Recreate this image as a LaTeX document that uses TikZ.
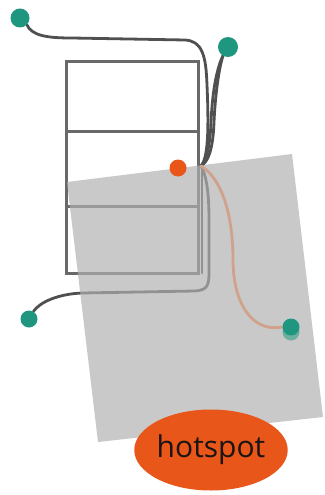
\documentclass[tikz,border=0pt]{standalone}
\usepackage{fontspec}
\setmainfont{Open Sans}
\usetikzlibrary{shapes.geometric}
\definecolor{teal1}{RGB}{31,150,128}
\definecolor{teal2}{RGB}{110,175,160}
\definecolor{hot}{RGB}{232,86,26}
\definecolor{cable}{RGB}{80,80,80}
\definecolor{frame}{RGB}{105,105,105}
\definecolor{salmon}{RGB}{208,162,140}
\pgfdeclarelayer{bg}
\pgfdeclarelayer{mid}
\pgfsetlayers{bg,mid,main}
\tikzset{
  endpoint/.style={circle,fill=teal1,inner sep=0pt,minimum size=17pt},
  hubdot/.style={circle,fill=hot,inner sep=0pt,minimum size=17pt},
  darkcable/.style={draw=cable,line width=2.8pt,line cap=round},
  lightcable/.style={draw=salmon,line width=2.8pt,line cap=round},
  framebox/.style={draw=frame,line width=3pt},
  sheet/.style={fill={rgb,1:red,0.69;green,0.69;blue,0.69},fill opacity=0.68},
  hotspotnode/.style={ellipse,fill=hot,minimum width=144pt,minimum height=81pt,inner sep=0pt,font=\fontsize{30}{32}\selectfont,text={rgb,255:red,26;green,20;blue,18}}
}
\begin{document}
\begin{tikzpicture}[x=1pt,y=-1pt]
\useasboundingbox (0,0) rectangle (324,495);
% endpoints and hub
\node[endpoint,minimum width=19pt,minimum height=18pt] (tA) at (20,18) {};
\node[endpoint,minimum width=19pt,minimum height=20pt] (tB) at (228,47) {};
\node[endpoint] (tC) at (29,319) {};
\node[circle,fill=teal2,inner sep=0pt,minimum size=17pt] (tDs) at (291,332) {};
\node[endpoint] (tD) at (291,327) {};
\node[hubdot] (hub) at (178,168) {};
\coordinate (J) at (201,166);
\node[hotspotnode] (hs) at (211,450) {hotspot};
\begin{pgfonlayer}{bg}
  % cabinet
  \draw[framebox] (66,62) rectangle (198,273);
  \draw[framebox] (66,131) -- (198,131);
  \draw[framebox] (66,206) -- (198,206);
  % dark cables
  \draw[darkcable] (tA.-45) .. controls (32,36) and (48,38) .. (72,38) -- (185,40)
     .. controls (202,41) and (206,55) .. (207,85)
     .. controls (209,130) and (208,158) .. (J);
  \draw[darkcable] (tB.-120) .. controls (215,72) and (212,100) .. (211,122)
     .. controls (210,150) and (205,162) .. (J);
  \draw[darkcable] (tB.-120) .. controls (218,72) and (215,100) .. (214,122)
     .. controls (213,150) and (208,162) .. (J);
  \draw[darkcable] (J) .. controls (206,175) and (209,190) .. (209,220) -- (209,274)
     .. controls (209,288) and (205,290) .. (195,291) -- (82,293)
     .. controls (58,294) and (40,302) .. (tC.60);
  \draw[darkcable] (202,166) -- (202,273);
  % sheet
  \fill[sheet] (67,182) -- (292,154) -- (323,417) -- (98,442) -- cycle;
\end{pgfonlayer}
\begin{pgfonlayer}{mid}
  \draw[lightcable] (J) .. controls (224,180) and (233,220) .. (233,260)
     .. controls (233,300) and (250,333) .. (tD.west);
\end{pgfonlayer}
\end{tikzpicture}
\end{document}
